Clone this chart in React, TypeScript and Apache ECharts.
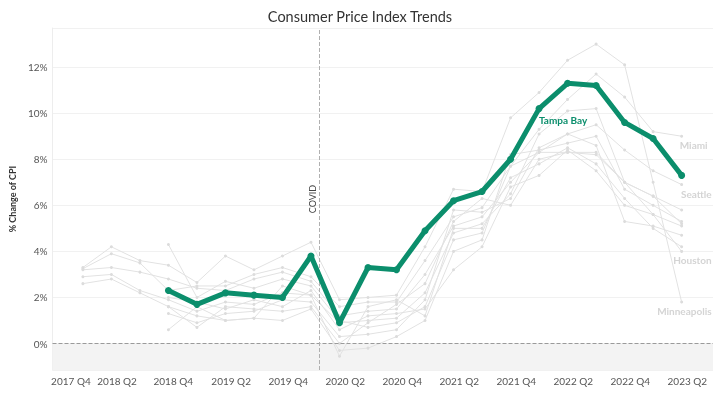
import React, { useEffect, useRef } from "react";
import * as echarts from "echarts";

// Quarter index 0 = 2018 Q1 ... 21 = 2023 Q2
const TAMPA_START = 3;
const tampaBay = [2.3, 1.7, 2.2, 2.1, 2.0, 3.8, 0.9, 3.3, 3.2, 4.9, 6.2, 6.6, 8.0, 10.2, 11.3, 11.2, 9.6, 8.9, 7.3];

const N = null;
const otherCities: { name: string; label: boolean; values: (number | null)[] }[] = [
  { name: "Minneapolis", label: true, values: [3.3, 4.2, 3.6, 3.4, 2.65, 3.8, 3.2, 3.8, 4.4, 1.9, 2.0, 2.1, 4.2, 6.7, 6.6, 9.8, 10.9, 12.3, 13.0, 12.1, 7.0, 1.8] },
  { name: "Miami", label: true, values: [3.25, 3.9, 3.5, 2.3, 2.5, 2.5, 3.0, 3.3, 2.9, 1.6, 1.8, 1.8, 3.6, 5.5, 5.9, 7.7, 9.3, 10.6, 11.7, 10.7, 9.2, 9.0] },
  { name: "Seattle", label: true, values: [3.2, 3.3, 3.1, 2.8, 2.4, 2.3, 2.8, 3.1, 2.7, 1.2, 1.4, 1.5, 3.0, 5.1, 5.5, 7.0, 8.3, 9.1, 9.5, 8.4, 7.5, 6.9] },
  { name: "Atlanta", label: false, values: [2.9, 3.0, 2.3, 1.9, 1.4, 1.8, 1.7, 2.2, 2.1, 0.9, 1.0, 1.1, 2.2, 4.8, 5.2, 6.5, 9.1, 10.1, 10.2, 7.0, 6.4, 5.8] },
  { name: "Denver", label: false, values: [2.6, 2.8, 2.2, 1.6, 1.2, 1.0, 1.1, 1.0, 1.5, -0.3, -0.2, 0.3, 1.0, 4.0, 4.5, 8.2, 8.4, 8.7, 9.0, 6.7, 6.0, 5.3] },
  { name: "Dallas", label: false, values: [N, N, N, 4.3, 2.0, 2.7, 2.4, 2.8, 2.5, 1.0, 0.7, 0.9, 1.6, 4.5, 4.8, 7.7, 8.3, 8.3, 8.2, 7.0, 6.4, 5.2] },
  { name: "Detroit", label: false, values: [N, N, N, 2.0, 1.8, 1.5, 1.9, 1.6, 2.3, 0.6, 1.2, 1.3, 1.5, 3.2, 4.2, 6.8, 7.3, 8.4, 7.5, 6.0, 5.6, 5.1] },
  { name: "Baltimore", label: false, values: [N, N, N, 1.3, 0.9, 1.3, 1.4, 1.9, 1.8, 0.3, 0.4, 0.6, 1.9, 5.8, 5.7, 6.3, 8.5, 9.1, 8.6, 5.3, 5.1, 4.7] },
  { name: "Houston", label: true, values: [N, N, N, 1.6, 0.7, 1.6, 1.5, 1.4, 1.6, 0.0, 0.9, 1.7, 2.6, 5.3, 6.3, 6.0, 8.0, 8.3, 8.3, 7.0, 5.6, 4.0] },
  { name: "St. Louis", label: false, values: [N, N, N, 0.6, 1.6, 1.0, 1.1, 2.5, 2.1, -0.55, 1.6, 1.9, 1.2, 5.0, 5.0, 7.2, 7.8, 8.5, 7.8, 6.3, 5.0, 4.2] },
];

const xTickPositions = [-0.42, 1.2, 3.17, 5.2, 7.2, 9.2, 11.2, 13.2, 15.2, 17.2, 19.2, 21.2];
const xTickLabels = ["2017 Q4", "2018 Q2", "2018 Q4", "2019 Q2", "2019 Q4", "2020 Q2", "2020 Q4", "2021 Q2", "2021 Q4", "2022 Q2", "2022 Q4", "2023 Q2"];
const covidPosition = 8.3;
const tampaLabelIndex = 13; // within tampaBay array (2022 Q1)
const Y_MIN = -1.15;
const Y_MAX = 13.7;

const FONT = "Lato, 'Open Sans', sans-serif";
const GREEN = "#0b8e6c";

export default function App() {
  const ref = useRef<HTMLDivElement>(null);
  useEffect(() => {
    if (!ref.current) return;
    const chart = echarts.init(ref.current, undefined, { renderer: "svg" });

    const graySeries = otherCities.map((c) => {
      const pts: any[] = [];
      const lastIdx = c.values.length - 1;
      c.values.forEach((v, i) => {
        if (v === null) return;
        if (i === lastIdx && c.label) {
          pts.push({
            value: [i, v],
            label: {
              show: true,
              formatter: c.name,
              position: "inside",
              align: "right",
              verticalAlign: "middle",
              offset: [c.name === "Miami" ? 26 : 30, 9],
              color: "#d4d4d4",
              fontSize: 10,
              fontWeight: "bold",
              fontFamily: FONT,
            },
          });
        } else {
          pts.push([i, v]);
        }
      });
      return {
        name: c.name,
        type: "line",
        data: pts,
        symbol: "circle",
        symbolSize: 3,
        lineStyle: { color: "#e2e2e2", width: 1 },
        itemStyle: { color: "#dcdcdc" },
        emphasis: { disabled: true },
        z: 2,
      };
    });

    const tampaData = tampaBay.map((v, k) => {
      const i = TAMPA_START + k;
      if (k === tampaLabelIndex) {
        return {
          value: [i, v],
          label: {
            show: true,
            formatter: "Tampa Bay",
            position: "inside",
            offset: [24, 11],
            color: GREEN,
            fontSize: 10,
            fontWeight: "bold",
            fontFamily: FONT,
          },
        };
      }
      return [i, v];
    });

    chart.setOption({
      animation: false,
      title: {
        text: "Consumer Price Index Trends",
        left: "center",
        top: 4,
        textStyle: { fontSize: 14.5, fontWeight: "normal", color: "#333", fontFamily: FONT },
      },
      grid: { left: 52, right: 7, top: 28, bottom: 24, containLabel: false },
      xAxis: {
        type: "value",
        min: -1.065,
        max: 22.1,
        axisLine: { show: false, onZero: false },
        axisTick: { show: false },
        splitLine: { show: false },
        axisLabel: {
          customValues: xTickPositions,
          formatter: (v: number) => {
            const k = xTickPositions.findIndex((p) => Math.abs(p - v) < 1e-6);
            return k >= 0 ? xTickLabels[k] : "";
          },
          color: "#555",
          fontSize: 10,
          margin: 6,
          fontFamily: FONT,
        },
      },
      yAxis: {
        type: "value",
        min: Y_MIN,
        max: Y_MAX,
        splitNumber: 7,
        minInterval: 2,
        maxInterval: 2,
        name: "% Change of CPI",
        nameLocation: "middle",
        nameRotate: 90,
        nameGap: 33,
        nameTextStyle: { fontSize: 9, color: "#333", fontWeight: "bold", fontFamily: FONT },
        axisLine: { show: true, onZero: false, lineStyle: { color: "#ededed" } },
        axisTick: { show: false },
        splitLine: { lineStyle: { color: "#f1f1f1" } },
        axisLabel: {
          formatter: (v: number) => `${v}%`,
          showMinLabel: false,
          showMaxLabel: false,
          color: "#555",
          fontSize: 10,
          margin: 5,
          fontFamily: FONT,
        },
      },
      series: [
        ...graySeries,
        {
          name: "Tampa Bay",
          type: "line",
          data: tampaData,
          symbol: "circle",
          symbolSize: 7,
          lineStyle: { color: GREEN, width: 5 },
          itemStyle: { color: GREEN },
          emphasis: { disabled: true },
          z: 10,
          markArea: {
            silent: true,
            itemStyle: { color: "#f3f3f3" },
            data: [[{ yAxis: Y_MIN }, { yAxis: 0 }]],
          },
          markLine: {
            silent: true,
            symbol: "none",
            data: [
              {
                yAxis: 0,
                lineStyle: { type: "dashed", color: "#9a9a9a", width: 1 },
                label: { show: false },
              },
              {
                xAxis: covidPosition,
                lineStyle: { type: "dashed", color: "#b0b0b0", width: 1 },
                label: {
                  show: true,
                  formatter: "COVID",
                  position: "insideMiddleTop",
                  color: "#444",
                  fontSize: 9,
                  fontFamily: FONT,
                  distance: 3,
                },
              },
            ],
          },
        },
      ],
    });
    return () => chart.dispose();
  }, []);
  return <div ref={ref} style={{ position: "fixed", left: 0, top: 0, width: 720, height: 394 }} />;
}
